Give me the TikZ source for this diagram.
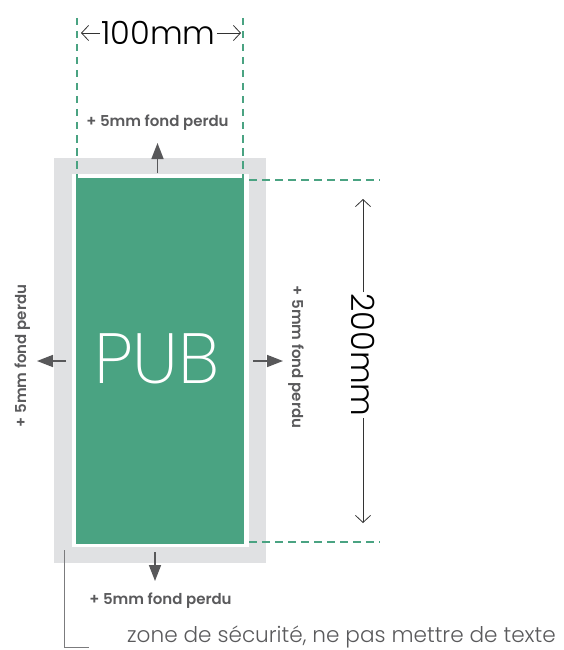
\documentclass[tikz,border=0pt]{standalone}
\usepackage{fontspec}
\setmainfont{Poppins}
\newfontfamily\lightfont{Poppins Light}
\newfontfamily\xlightfont{Poppins ExtraLight}
\newfontfamily\semifont{Poppins SemiBold}
\usetikzlibrary{arrows.meta}
\definecolor{pubgreen}{HTML}{4AA382}
\definecolor{bleed}{HTML}{E0E1E3}
\definecolor{arrowgray}{HTML}{58585A}
\definecolor{txtgray}{HTML}{5A5A5C}
\definecolor{dimgray}{HTML}{333333}
\tikzset{
  guide/.style={pubgreen, line width=2pt, dash pattern=on 7.5pt off 5.5pt},
  bleedarrow/.style={arrowgray, line width=1.6pt, -{Triangle[length=16pt,width=12pt]}},
  bleedlabel/.style={text=txtgray, font=\semifont\fontsize{15}{17}\selectfont, inner sep=0pt},
  dimline/.style={dimgray, line width=0.8pt},
  dimtip/.style={-{Straight Barb[length=7pt,width=15pt,line width=0.8pt]}},
  dimlabel/.style={text=black, font=\lightfont\fontsize{32}{35}\selectfont, inner sep=1pt},
}
\begin{document}
\begin{tikzpicture}[x=1pt,y=-1pt]
\useasboundingbox (0,0) rectangle (563,650);
% bleed zone and safety margin
\fill[bleed] (54,158) rectangle (266,563);
\fill[white] (72,174) rectangle (249,547);
\node[fill=pubgreen, minimum width=168pt, minimum height=366pt, inner sep=0pt, anchor=north west] (pub) at (76,178) {};
\node[anchor=base, text=white, font=\xlightfont\fontsize{71}{74}\selectfont, inner sep=0pt] (pubtext) at (157,383) {PUB};
% green guides
\coordinate (gvl1) at (77,18); \coordinate (gvl2) at (77,178);
\coordinate (gvr1) at (243,18); \coordinate (gvr2) at (243,178);
\coordinate (ght1) at (249,180); \coordinate (ght2) at (380,180);
\coordinate (ghb1) at (249,542); \coordinate (ghb2) at (380,542);
\draw[guide] (gvl1) -- (gvl2);
\draw[guide] (gvr1) -- (gvr2);
\draw[guide] (ght1) -- (ght2);
\draw[guide] (ghb1) -- (ghb2);
% 100mm dimension
\node[dimlabel] (t100) at (158.5,33) {100mm};
\coordinate (l100) at (81,33); \coordinate (r100) at (241,33);
\draw[dimline, dimtip] (t100.west) -- (l100);
\draw[dimline, dimtip] (t100.east) -- (r100);
% 200mm dimension
\node[dimlabel, rotate=-90] (t200) at (363,355) {200mm};
\coordinate (a200) at (363,199); \coordinate (b200) at (363,523);
\draw[dimline, dimtip] (t200.west) -- (a200);
\draw[dimline, dimtip] (t200.east) -- (b200);
% bleed arrows
\coordinate (at0) at (157.5,173); \coordinate (at1) at (157.5,143);
\coordinate (ab0) at (155,552); \coordinate (ab1) at (155,581);
\coordinate (al0) at (66,361); \coordinate (al1) at (37,361);
\coordinate (ar0) at (253,361); \coordinate (ar1) at (283,361);
\draw[bleedarrow] (at0) -- (at1);
\draw[bleedarrow] (ab0) -- (ab1);
\draw[bleedarrow] (al0) -- (al1);
\draw[bleedarrow] (ar0) -- (ar1);
\node[bleedlabel, anchor=base] (lt) at (157.5,126) {+ 5mm fond perdu};
\node[bleedlabel, anchor=base] (lb) at (160.5,604) {+ 5mm fond perdu};
\node[bleedlabel, anchor=base, rotate=90] (ll) at (26,356) {+ 5mm fond perdu};
\node[bleedlabel, anchor=base, rotate=-90] (lr) at (292,357) {+ 5mm fond perdu};
% safety zone callout
\coordinate (c0) at (64,550); \coordinate (c1) at (64,647); \coordinate (c2) at (89,647);
\draw[txtgray!80, line width=0.9pt] (c0) -- (c1) -- (c2);
\node[anchor=base west, text=txtgray, font=\lightfont\fontsize{21.6}{24}\selectfont, inner sep=0pt] (zone) at (127,642) {zone de sécurité, ne pas mettre de texte};
\end{tikzpicture}
\end{document}
